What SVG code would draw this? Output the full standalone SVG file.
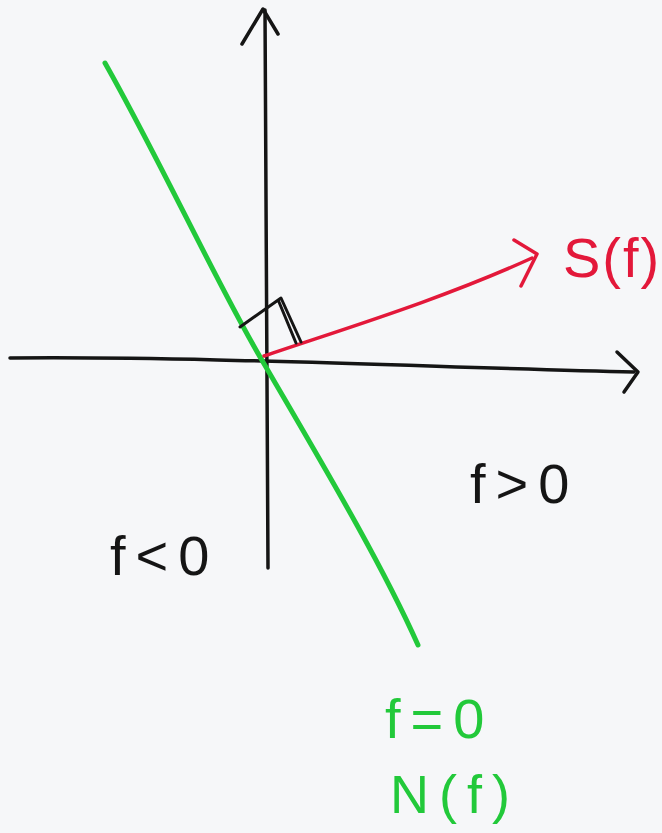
<svg xmlns="http://www.w3.org/2000/svg" width="662" height="833" viewBox="0 0 662 833">
<style>
.ink{fill:none;stroke-linecap:round;stroke-linejoin:round}
.k{stroke:#151515;stroke-width:3.5}
.g{stroke:#22c93a;stroke-width:5}
.r{stroke:#e3183a;stroke-width:3.5}
.t{font-family:"Liberation Sans","DejaVu Sans",sans-serif;font-size:56px;letter-spacing:10px}
</style>
<rect width="662" height="833" fill="#f6f7f9"/>
<g id="axes">
<path class="ink k" d="M265 10 C265 150 266 350 268 568"/>
<path class="ink k" d="M242 44 L263 9 L278 34"/>
<path class="ink k" d="M10 358 C200 356 450 368 634 372"/>
<path class="ink k" d="M617 352 L638 372 L624 392"/>
</g>
<g id="connectors">
<path id="normal-line" class="ink g" d="M105 63 C160 160 220 290 263 362 C320 460 380 560 418 645"/>
<path id="sf-vector" class="ink r" d="M264 356 C340 330 440 300 532 258"/>
<path class="ink r" d="M514 240 L537 254 L521 286"/>
<path id="right-angle" class="ink k" style="stroke-width:3" d="M240 327 L281 298 L301 342 M296 343 L279 302"/>
</g>
<g id="label-sf"><text class="t" x="563" y="277" fill="#e3183a" style="letter-spacing:2px">S(f)</text></g>
<g id="label-fpos"><text class="t" x="470" y="503" fill="#151515">f&gt;0</text></g>
<g id="label-fneg"><text class="t" x="110" y="575" fill="#151515">f&lt;0</text></g>
<g id="label-f0"><text class="t" x="385" y="738" fill="#22c93a">f=0</text></g>
<g id="label-nf"><text class="t" x="390" y="813" fill="#22c93a" style="font-size:54px">N(f)</text></g>
</svg>
